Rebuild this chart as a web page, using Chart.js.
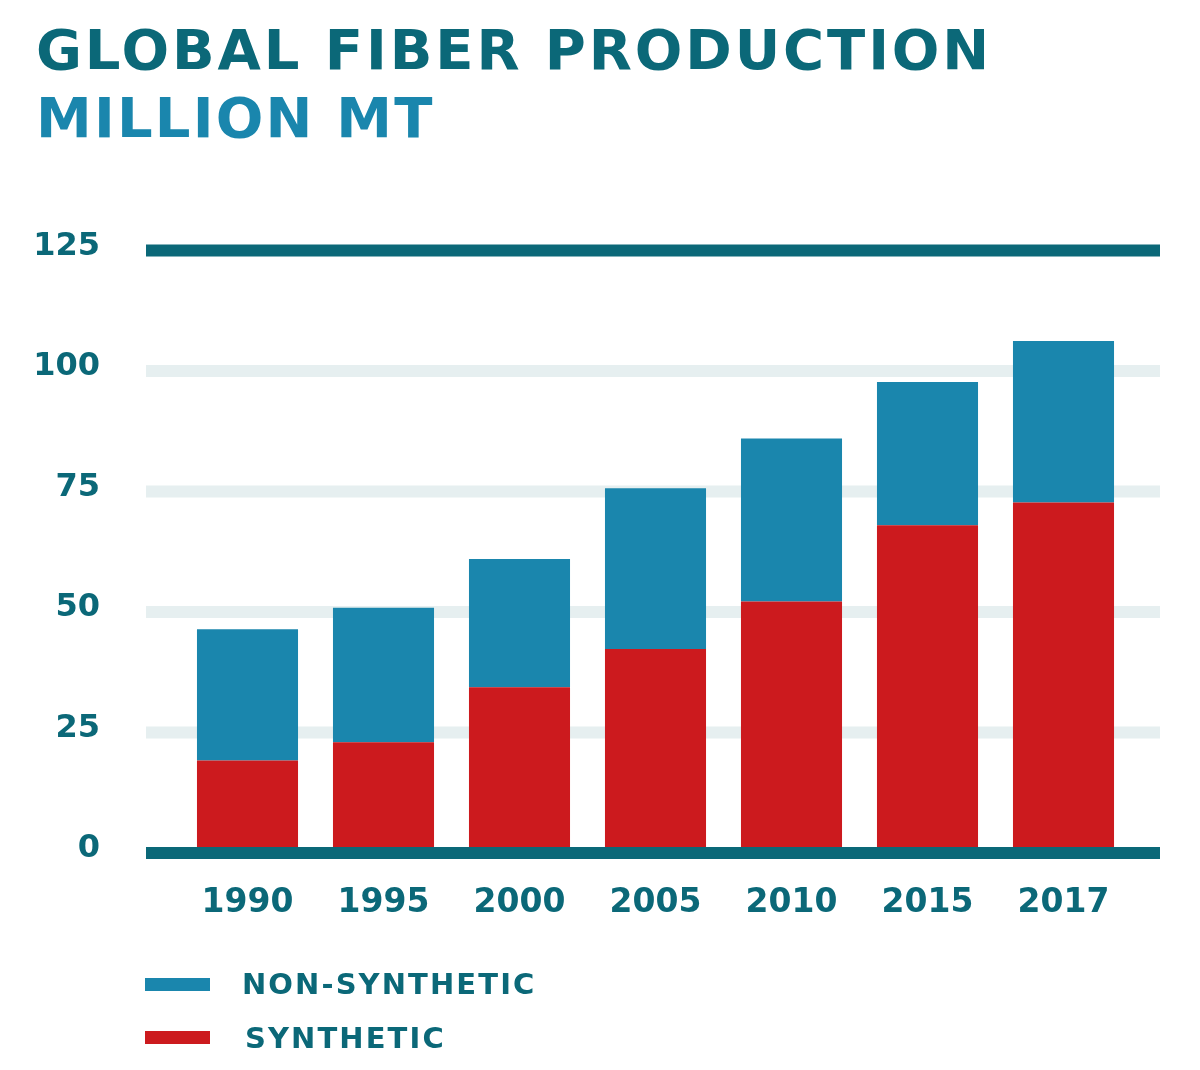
<!DOCTYPE html>
<html>
<head>
<meta charset="utf-8">
<script src="https://cdn.jsdelivr.net/npm/chart.js@4/dist/chart.umd.min.js"></script>
<style>
  html, body { margin: 0; padding: 0; background: #fff; }
  #wrap { position: relative; width: 1200px; height: 1070px; overflow: hidden; }
  #chartBox { position: absolute; left: 0; top: 0; width: 1200px; height: 1070px; }
  .title { position: absolute; left: 36px; font-family: "DejaVu Sans", sans-serif; font-weight: bold;
           font-size: 56px; line-height: 56px; letter-spacing: 2.9px; white-space: nowrap; }
  #t1 { top: 22px; color: #0b6878; }
  #t2 { top: 90px; color: #1a86ad; letter-spacing: 2.2px; }
  .leg { position: absolute; left: 145px; height: 40px; font-family: "DejaVu Sans", sans-serif;
         font-weight: bold; font-size: 29px; line-height: 29px; letter-spacing: 2.1px; color: #0b6878; }
  .leg .sw { position: absolute; left: 0; width: 65px; height: 13px; }
  .leg .tx { position: absolute; white-space: nowrap; }
</style>
</head>
<body>
<div id="wrap">
  <div id="chartBox"><canvas id="fiberChart"></canvas></div>
  <div class="title" id="t1">GLOBAL FIBER PRODUCTION</div>
  <div class="title" id="t2">MILLION MT</div>
  <div id="legend"></div>
</div>
<script>
const YEARS = ['1990', '1995', '2000', '2005', '2010', '2015', '2017'];
const SYNTHETIC = [19.2, 23.0, 34.4, 42.3, 52.2, 68.0, 72.7];
const NON_SYNTHETIC = [27.2, 27.9, 26.6, 33.4, 33.8, 29.7, 33.5];
const Y_TICKS = [0, 25, 50, 75, 100, 125];

const DARK = '#0b6878';
const BLUE = '#1a86ad';
const RED = '#cc1a1e';
const LIGHT = '#e6eff0';

// horizontal bands that run wider than the plot area
const bandLines = {
    id: 'bandLines',
    beforeDatasetsDraw(chart) {
        const ctx = chart.ctx, y = chart.scales.y;
        ctx.save();
        ctx.fillStyle = LIGHT;
        y.ticks.forEach(t => {
            if (t.value === y.min || t.value === y.max) return;
            const py = y.getPixelForValue(t.value);
            ctx.fillRect(146, py - 6, 1014, 12);
        });
        ctx.restore();
    },
    afterDatasetsDraw(chart) {
        const ctx = chart.ctx, y = chart.scales.y;
        ctx.save();
        ctx.fillStyle = DARK;
        [y.min, y.max].forEach(v => {
            const py = y.getPixelForValue(v);
            ctx.fillRect(146, py - 6, 1014, 12);
        });
        ctx.restore();
    }
};

const chart = new Chart(document.getElementById('fiberChart'), {
    type: 'bar',
    data: {
        labels: YEARS,
        datasets: [
            { label: 'SYNTHETIC', data: SYNTHETIC, backgroundColor: RED },
            { label: 'NON-SYNTHETIC', data: NON_SYNTHETIC, backgroundColor: BLUE }
        ]
    },
    options: {
        responsive: true,
        maintainAspectRatio: false,
        animation: false,
        layout: { padding: { left: 0, right: 68.5, top: 250.5, bottom: 0 } },
        datasets: { bar: { categoryPercentage: 1, barPercentage: 0.743 } },
        plugins: { legend: { display: false }, tooltip: { enabled: false } },
        scales: {
            x: {
                stacked: true,
                grid: { display: false, drawTicks: false },
                border: { display: false },
                ticks: {
                    color: DARK,
                    padding: 31,
                    font: { family: 'DejaVu Sans', weight: 'bold', size: 33 }
                },
                afterFit(scale) { scale.height = 217; }
            },
            y: {
                stacked: true,
                min: 0,
                max: 125,
                afterBuildTicks(scale) { scale.ticks = Y_TICKS.map(v => ({ value: v })); },
                grid: { display: false, drawTicks: false },
                border: { display: false },
                ticks: {
                    color: DARK,
                    padding: 79.5,
                    labelOffset: -4,
                    font: { family: 'DejaVu Sans', weight: 'bold', size: 32 }
                },
                afterFit(scale) { scale.width = 179.5; }
            }
        }
    },
    plugins: [bandLines]
});

// legend built from the chart's datasets, top series first
const legendBox = document.getElementById('legend');
const legTops = [970, 1024];
chart.data.datasets.slice().reverse().forEach((ds, i) => {
    const row = document.createElement('div');
    row.className = 'leg';
    row.style.top = legTops[i] + 'px';
    row.innerHTML = '<div class="sw" style="top:' + (i === 0 ? 8 : 7) + 'px;background:' + ds.backgroundColor + '"></div>' +
        '<div class="tx" style="left:' + (i === 0 ? 97 : 100) + 'px;top:0">' + ds.label + '</div>';
    legendBox.appendChild(row);
});
</script>
</body>
</html>
